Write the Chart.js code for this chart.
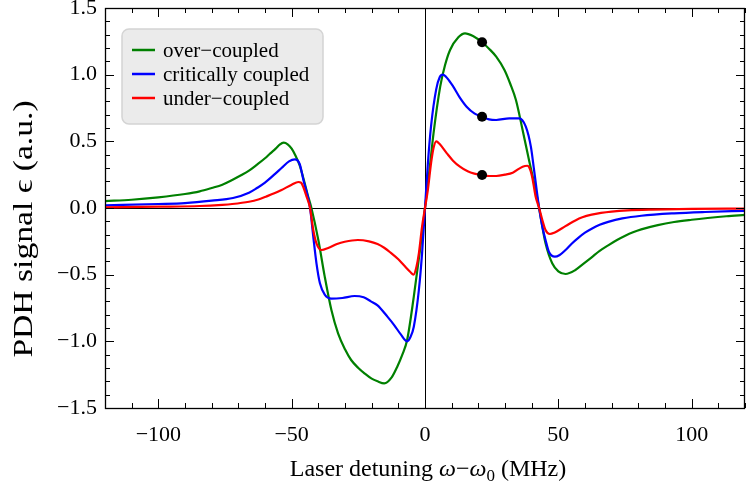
<!DOCTYPE html>
<html>
<head>
<meta charset="utf-8">
<script src="https://cdn.jsdelivr.net/npm/chart.js@4.4.1/dist/chart.umd.min.js"></script>
<style>
  html, body { margin: 0; padding: 0; background: #fff; overflow: hidden; }
</style>
</head>
<body>
<canvas id="myChart" width="750" height="494"></canvas>
<script>
// over-coupled (green)
var overX = [-120, -110, -100, -90, -84.5, -80, -76, -72.3, -69, -66, -63, -60, -58, -56, -54.5, -53, -51.5, -50, -48.5, -47,
  -45.5, -44, -42.6, -40, -37.6, -35.1, -32.6, -30, -27.7, -25, -22.7, -20, -17.8, -15.3, -12.5, -10.4, -8.5, -6.7, -4.2, -1.7,
  0, 1.7, 3.2, 5.7, 7.5, 9.4, 12.5, 15, 18, 21.4, 24, 26.7, 29.8, 32, 34.1, 36.6, 39, 41.5, 42.8, 44,
  45.2, 47.7, 50, 52.7, 56.4, 59, 62.5, 65.5, 68.7, 72, 74.9, 78, 81.1, 87.3, 93.4, 100, 106, 113, 120];
var overY = [0.052, 0.062, 0.08, 0.105, 0.125, 0.15, 0.175, 0.21, 0.245, 0.28, 0.325, 0.373, 0.41, 0.445, 0.475, 0.49, 0.478, 0.445, 0.39, 0.32,
  0.215, 0.1, 0, -0.24, -0.515, -0.765, -0.94, -1.06, -1.14, -1.2, -1.24, -1.28, -1.30, -1.315, -1.27, -1.19, -1.1, -0.99, -0.665, -0.29,
  0, 0.29, 0.56, 0.91, 1.07, 1.185, 1.28, 1.31, 1.29, 1.243, 1.195, 1.135, 1.035, 0.93, 0.81, 0.585, 0.36, 0.135, 0, -0.14,
  -0.265, -0.415, -0.475, -0.495, -0.465, -0.425, -0.37, -0.322, -0.28, -0.24, -0.21, -0.182, -0.16, -0.128, -0.105, -0.088, -0.075, -0.062, -0.052];

// critically coupled (blue)
var critX = [-120, -100, -90, -80, -72, -66, -63, -60, -56, -53.8, -51, -48.8, -47, -45.6, -43.1, -41.9, -40.7, -39.4, -37.6, -35.1,
  -31, -26.4, -23, -20.3, -17.8, -14.1, -11.5, -9, -6.7, -5.5, -4.2, -2.3, -1.1, 0, 1.1, 2.3, 4.2, 5.5, 6.7, 8.5,
  10.6, 13, 15.6, 18.5, 21.4, 24, 26.7, 31.6, 35.3, 37.8, 39.7, 40.9, 42.8, 44, 45.2, 46.5, 48.7, 50.5, 52.7, 55,
  57.6, 60, 62.5, 65.5, 68.7, 74, 81.1, 93.4, 105, 120];
var critY = [0.02, 0.03, 0.037, 0.055, 0.075, 0.115, 0.15, 0.19, 0.26, 0.3, 0.35, 0.365, 0.33, 0.21, 0, -0.215, -0.415, -0.565, -0.65, -0.68,
  -0.675, -0.66, -0.67, -0.70, -0.73, -0.815, -0.88, -0.95, -1.0, -0.97, -0.89, -0.615, -0.34, 0, 0.34, 0.62, 0.89, 0.98, 1.0, 0.97,
  0.91, 0.83, 0.76, 0.71, 0.685, 0.665, 0.66, 0.672, 0.672, 0.61, 0.46, 0.285, 0, -0.14, -0.24, -0.33, -0.365, -0.352, -0.315, -0.268,
  -0.222, -0.185, -0.155, -0.126, -0.104, -0.078, -0.058, -0.04, -0.03, -0.021];

// under-coupled (red)
var underX = [-120, -100, -84.5, -76, -72.3, -66, -62.5, -59.7, -56.5, -53.8, -50, -47.5, -46.5, -45.5, -44.4, -43.1, -41.9, -40.7, -38.8, -36.3,
  -33, -30.1, -25.2, -21, -17.8, -15.3, -12.9, -10, -7.9, -5.5, -4.3, -3.2, -2.3, -1.1, 0, 1.1, 2.3, 3.2, 4.2, 5.5,
  8.2, 10.5, 13.1, 16, 18.5, 21.4, 24, 26.7, 30, 32.9, 36.6, 38.4, 39.4, 40.3, 41.5, 42.8, 44, 45.2, 46.8, 48.5,
  51.4, 54, 56.4, 59, 62.5, 66, 70, 76, 85, 100, 120];
var underY = [0.005, 0.01, 0.015, 0.024, 0.03, 0.047, 0.064, 0.085, 0.11, 0.135, 0.175, 0.195, 0.19, 0.15, 0.085, 0, -0.165, -0.265, -0.315, -0.30,
  -0.27, -0.253, -0.24, -0.25, -0.27, -0.298, -0.335, -0.385, -0.43, -0.48, -0.5, -0.44, -0.34, -0.14, 0, 0.14, 0.34, 0.45, 0.5, 0.48,
  0.41, 0.355, 0.31, 0.275, 0.258, 0.248, 0.24, 0.24, 0.25, 0.265, 0.31, 0.317, 0.29, 0.222, 0.085, 0, -0.09, -0.165, -0.195, -0.185,
  -0.152, -0.12, -0.093, -0.07, -0.05, -0.037, -0.027, -0.018, -0.012, -0.007, -0.004];

// black markers
var markerX = [21.4, 21.4, 21.4];
var markerY = [1.243, 0.685, 0.248];

var seriesLabels = ["over\u2212coupled", "critically coupled", "under\u2212coupled"];
var seriesColors = ["#008000", "#0000ff", "#ff0000"];
var xTicks = [-100, -50, 0, 50, 100];
var yTicks = [-1.5, -1.0, -0.5, 0.0, 0.5, 1.0, 1.5];

var FONT = "'Liberation Serif', 'DejaVu Serif', serif";

function toPoints(xs, ys) {
  return xs.map(function (x, i) { return { x: x, y: ys[i] }; });
}

function minusLabel(v, digits) {
  var s = digits ? Math.abs(v).toFixed(digits) : String(Math.abs(v));
  return (v < 0 ? "\u2212" : "") + s;
}

function curve(i, xs, ys) {
  return {
    label: seriesLabels[i],
    data: toPoints(xs, ys),
    borderColor: seriesColors[i],
    borderWidth: 2.2,
    pointRadius: 0,
    fill: false,
    cubicInterpolationMode: "monotone",
    order: 3 - i
  };
}

function noPadding(s) {
  s.paddingTop = 0; s.paddingBottom = 0; s.paddingLeft = 0; s.paddingRight = 0;
}

// frame, inward ticks, legend and axis titles
var decorations = {
  id: "decorations",
  afterDatasetsDraw: function (chart) {
    var ctx = chart.ctx;
    var a = chart.chartArea;
    var xs = chart.scales.x, ys = chart.scales.y;
    ctx.save();
    ctx.strokeStyle = "#000";
    ctx.lineWidth = 1;
    ctx.beginPath();
    for (var v = -120; v <= 120; v += 10) {
      var px = Math.round(xs.getPixelForValue(v)) + 0.5;
      var len = v % 50 === 0 ? 9 : 5;
      ctx.moveTo(px, a.bottom); ctx.lineTo(px, a.bottom - len);
      ctx.moveTo(px, a.top); ctx.lineTo(px, a.top + len);
    }
    for (var k = -15; k <= 15; k++) {
      var py = Math.round(ys.getPixelForValue(k / 10)) + 0.5;
      var l2 = k % 5 === 0 ? 9 : 5;
      ctx.moveTo(a.left, py); ctx.lineTo(a.left + l2, py);
      ctx.moveTo(a.right, py); ctx.lineTo(a.right - l2, py);
    }
    ctx.stroke();
    ctx.lineWidth = 1.3;
    ctx.strokeRect(a.left + 0.5, a.top + 0.5, a.right - a.left - 1, a.bottom - a.top);

    // legend
    var bx = 122, by = 29, bw = 201, bh = 95, r = 7;
    ctx.beginPath();
    ctx.moveTo(bx + r, by);
    ctx.arcTo(bx + bw, by, bx + bw, by + bh, r);
    ctx.arcTo(bx + bw, by + bh, bx, by + bh, r);
    ctx.arcTo(bx, by + bh, bx, by, r);
    ctx.arcTo(bx, by, bx + bw, by, r);
    ctx.closePath();
    ctx.fillStyle = "#ebebeb";
    ctx.fill();
    ctx.strokeStyle = "#d4d4d4";
    ctx.lineWidth = 1.5;
    ctx.stroke();
    ctx.font = "21px " + FONT;
    ctx.textBaseline = "middle";
    ctx.textAlign = "left";
    for (var i = 0; i < seriesLabels.length; i++) {
      var ry = 50 + i * 24;
      ctx.strokeStyle = seriesColors[i];
      ctx.lineWidth = 2.5;
      ctx.beginPath();
      ctx.moveTo(132, ry); ctx.lineTo(155, ry);
      ctx.stroke();
      ctx.fillStyle = "#000";
      ctx.fillText(seriesLabels[i], 163, ry + 1);
    }

    // x title: Laser detuning ω−ω0 (MHz)
    var parts = [
      { t: "Laser detuning ", f: "24px " + FONT, dy: 0 },
      { t: "\u03c9", f: "italic 24px " + FONT, dy: 0 },
      { t: "\u2212", f: "24px " + FONT, dy: 0 },
      { t: "\u03c9", f: "italic 24px " + FONT, dy: 0 },
      { t: "0", f: "17px " + FONT, dy: 5 },
      { t: " (MHz)", f: "24px " + FONT, dy: 0 }
    ];
    var total = 0;
    parts.forEach(function (p) { ctx.font = p.f; p.w = ctx.measureText(p.t).width; total += p.w; });
    var tx = 428 - total / 2;
    ctx.textBaseline = "alphabetic";
    ctx.fillStyle = "#000";
    parts.forEach(function (p) { ctx.font = p.f; ctx.fillText(p.t, tx, 476 + p.dy); tx += p.w; });

    // y title (slightly stretched along its length, as in the original)
    ctx.translate(32, 229);
    ctx.rotate(-Math.PI / 2);
    ctx.scale(1.2, 1);
    ctx.font = "28px " + FONT;
    ctx.textAlign = "center";
    ctx.fillText("PDH signal \u03f5 (a.u.)", 0, 0);
    ctx.restore();
  }
};

var ctx = document.getElementById("myChart").getContext("2d");
var myChart = new Chart(ctx, {
  type: "line",
  data: {
    datasets: [
      curve(0, overX, overY),
      curve(1, critX, critY),
      curve(2, underX, underY),
      {
        label: "markers",
        data: toPoints(markerX, markerY),
        showLine: false,
        pointRadius: 5,
        pointBackgroundColor: "#000",
        pointBorderColor: "#000",
        pointBorderWidth: 0,
        order: 0
      }
    ]
  },
  options: {
    responsive: false,
    animation: false,
    events: [],
    layout: { padding: { left: 0, right: 0, top: 8, bottom: 0 } },
    plugins: { legend: { display: false }, tooltip: { enabled: false } },
    scales: {
      x: {
        type: "linear",
        min: -120,
        max: 120,
        afterBuildTicks: function (s) { s.ticks = xTicks.map(function (v) { return { value: v }; }); },
        afterFit: function (s) { s.height = 86; noPadding(s); },
        ticks: {
          padding: 14,
          color: "#000",
          font: { family: FONT, size: 22 },
          callback: function (v) { return minusLabel(v, 0); }
        },
        grid: {
          drawTicks: false,
          lineWidth: 1,
          color: function (c) { return c.tick && c.tick.value === 0 ? "#000" : "rgba(0,0,0,0)"; }
        },
        border: { display: false }
      },
      y: {
        type: "linear",
        min: -1.5,
        max: 1.5,
        afterBuildTicks: function (s) { s.ticks = yTicks.map(function (v) { return { value: v }; }); },
        afterFit: function (s) { s.width = 105; noPadding(s); },
        ticks: {
          padding: 8,
          color: "#000",
          font: { family: FONT, size: 22 },
          callback: function (v) { return minusLabel(v, 1); }
        },
        grid: {
          drawTicks: false,
          lineWidth: 1,
          color: function (c) { return c.tick && c.tick.value === 0 ? "#000" : "rgba(0,0,0,0)"; }
        },
        border: { display: false }
      }
    }
  },
  plugins: [decorations]
});
</script>
</body>
</html>
